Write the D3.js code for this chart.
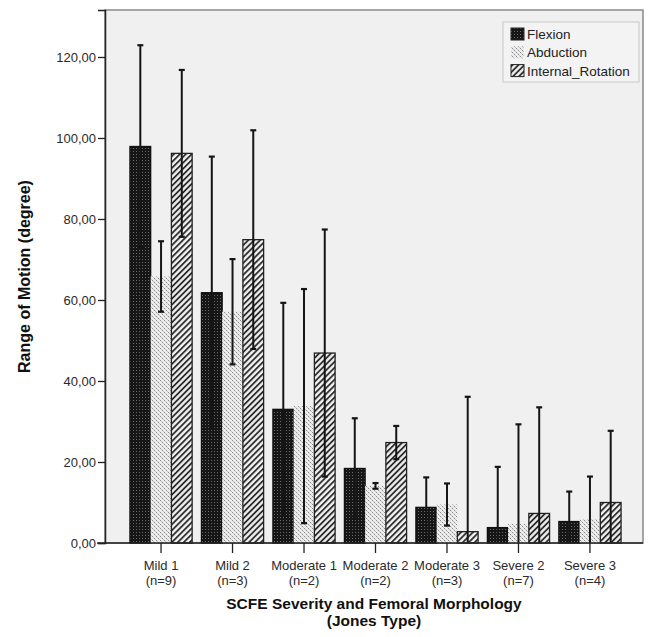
<!DOCTYPE html>
<html>
<head>
<meta charset="utf-8">
<script src="https://cdn.jsdelivr.net/npm/d3@7"></script>
<style>
  html, body { margin: 0; padding: 0; background: #ffffff; }
  svg { display: block; font-family: "Liberation Sans", Arial, sans-serif; }
</style>
</head>
<body>
<svg id="chart" width="648" height="637"></svg>
<script>
// ---- data ----
const categories = ["Mild 1", "Mild 2", "Moderate 1", "Moderate 2", "Moderate 3", "Severe 2", "Severe 3"];
const groupSizes = ["(n=9)", "(n=3)", "(n=2)", "(n=2)", "(n=3)", "(n=7)", "(n=4)"];
const seriesNames = ["Flexion", "Abduction", "Internal_Rotation"];
const flexion = [97.9, 61.8, 33.0, 18.4, 8.8, 3.8, 5.3];
const abduction = [65.8, 57.1, 33.8, 14.1, 9.5, 4.7, 5.9];
const internalRotation = [96.2, 74.9, 46.9, 24.8, 2.8, 7.3, 10.0];
const flexionErr = [25.0, 33.6, 26.3, 12.4, 7.4, 15.0, 7.4];
const abductionErr = [8.7, 13.0, 28.9, 0.7, 5.2, 24.6, 10.5];
const internalRotationErr = [20.6, 27.0, 30.5, 4.1, 33.3, 26.2, 17.7];
const yTicks = [0, 20, 40, 60, 80, 100, 120];
const yMax = 131.6;

const seriesValues = [flexion, abduction, internalRotation];
const seriesErrs = [flexionErr, abductionErr, internalRotationErr];

const svg = d3.select("#chart");
const plot = { left: 105, right: 643, top: 10, bottom: 543 };

// ---- patterns ----
const defs = svg.append("defs");
const pf = defs.append("pattern").attr("id", "patFlex").attr("patternUnits", "userSpaceOnUse")
  .attr("width", 3).attr("height", 3);
pf.append("rect").attr("width", 3).attr("height", 3).attr("fill", "#161616");
pf.append("rect").attr("x", 1).attr("y", 1).attr("width", 1).attr("height", 1).attr("fill", "#6a6a6a");

const pa = defs.append("pattern").attr("id", "patAbd").attr("patternUnits", "userSpaceOnUse")
  .attr("width", 4).attr("height", 4);
pa.append("rect").attr("width", 4).attr("height", 4).attr("fill", "#ececec");
pa.append("rect").attr("x", 0).attr("y", 0).attr("width", 1).attr("height", 1).attr("fill", "#8c8c8c");
pa.append("rect").attr("x", 2).attr("y", 2).attr("width", 1).attr("height", 1).attr("fill", "#8c8c8c");
pa.append("rect").attr("x", 1).attr("y", 1).attr("width", 1).attr("height", 1).attr("fill", "#c4c4c4");
pa.append("rect").attr("x", 3).attr("y", 3).attr("width", 1).attr("height", 1).attr("fill", "#c4c4c4");

const pi = defs.append("pattern").attr("id", "patIR").attr("patternUnits", "userSpaceOnUse")
  .attr("width", 4.2).attr("height", 4.2).attr("patternTransform", "rotate(45)");
pi.append("rect").attr("width", 4.2).attr("height", 4.2).attr("fill", "#f2f2f2");
pi.append("line").attr("x1", 1).attr("y1", 0).attr("x2", 1).attr("y2", 4.2)
  .attr("stroke", "#1e1e1e").attr("stroke-width", 1.7);

const fills = ["url(#patFlex)", "url(#patAbd)", "url(#patIR)"];
const strokes = ["#111", "none", "#222"];

// ---- scales ----
const x0 = d3.scaleBand().domain(categories).range([125.3, 625.7]).paddingInner(0.13).paddingOuter(0.065);
const x1 = d3.scaleBand().domain(seriesNames).range([0, x0.bandwidth()]).padding(0);
const y = d3.scaleLinear().domain([0, yMax]).range([plot.bottom, plot.top]);

// ---- plot background and frame ----
svg.append("rect").attr("x", plot.left).attr("y", plot.top)
  .attr("width", plot.right - plot.left).attr("height", plot.bottom - plot.top)
  .attr("fill", "#f0f0f0").attr("stroke", "#8a8a8a").attr("stroke-width", 1.5);

// ---- bars ----
const rows = [];
categories.forEach((c, i) => {
  seriesNames.forEach((s, k) => {
    rows.push({ cat: c, series: s, k: k, v: seriesValues[k][i], e: seriesErrs[k][i] });
  });
});

svg.append("g").selectAll("rect").data(rows).join("rect")
  .attr("x", d => x0(d.cat) + x1(d.series))
  .attr("y", d => y(d.v))
  .attr("width", x1.bandwidth())
  .attr("height", d => y(0) - y(d.v))
  .attr("fill", d => fills[d.k])
  .attr("stroke", d => strokes[d.k])
  .attr("stroke-width", 1.3);

// ---- error bars ----
const eb = svg.append("g");
const capW = 3;
rows.forEach(d => {
  const cx = x0(d.cat) + x1(d.series) + x1.bandwidth() / 2;
  const lo = Math.max(0, d.v - d.e);
  const hi = d.v + d.e;
  eb.append("line").attr("x1", cx).attr("x2", cx).attr("y1", y(lo)).attr("y2", y(hi))
    .attr("stroke", "#151515").attr("stroke-width", 2);
  eb.append("line").attr("x1", cx - capW).attr("x2", cx + capW).attr("y1", y(hi)).attr("y2", y(hi))
    .attr("stroke", "#151515").attr("stroke-width", 2.2);
  if (d.v - d.e > 0) {
    eb.append("line").attr("x1", cx - capW).attr("x2", cx + capW).attr("y1", y(lo)).attr("y2", y(lo))
      .attr("stroke", "#151515").attr("stroke-width", 2.2);
  }
});

// ---- axes ----
const yAxis = d3.axisLeft(y).tickValues(yTicks).tickSize(7).tickPadding(2)
  .tickFormat(d => d3.format(".2f")(d).replace(".", ","));
const gy = svg.append("g").attr("transform", `translate(${plot.left},0)`).call(yAxis);
gy.select(".domain").attr("stroke", "#222").attr("stroke-width", 1.5);
gy.selectAll(".tick line").attr("stroke", "#222").attr("stroke-width", 1.3);
gy.selectAll(".tick text").attr("font-size", 13).attr("fill", "#2a2a2a")
  .attr("font-family", "'Liberation Sans', Arial, sans-serif");

const xAxis = d3.axisBottom(x0).tickSize(10).tickFormat("");
const gx = svg.append("g").attr("transform", `translate(0,${plot.bottom})`).call(xAxis);
gx.select(".domain").remove();
gx.selectAll(".tick line").attr("stroke", "#222").attr("stroke-width", 1.3);
svg.append("line").attr("x1", 97).attr("x2", plot.right).attr("y1", plot.bottom).attr("y2", plot.bottom)
  .attr("stroke", "#222").attr("stroke-width", 1.5);

const labels = svg.append("g").attr("font-size", 13).attr("fill", "#2a2a2a").attr("text-anchor", "middle");
categories.forEach((c, i) => {
  const cx = x0(c) + x0.bandwidth() / 2;
  labels.append("text").attr("x", cx).attr("y", 570).text(c);
  labels.append("text").attr("x", cx).attr("y", 584.5).text(groupSizes[i]);
});

// ---- titles ----
svg.append("text").attr("x", (plot.left + plot.right) / 2).attr("y", 609)
  .attr("text-anchor", "middle").attr("font-size", 15.5).attr("font-weight", "bold").attr("fill", "#111")
  .text("SCFE Severity and Femoral Morphology");
svg.append("text").attr("x", (plot.left + plot.right) / 2).attr("y", 626)
  .attr("text-anchor", "middle").attr("font-size", 15.5).attr("font-weight", "bold").attr("fill", "#111")
  .text("(Jones Type)");
svg.append("text").attr("transform", `translate(30,${(plot.top + plot.bottom) / 2}) rotate(-90)`)
  .attr("text-anchor", "middle").attr("font-size", 16).attr("font-weight", "bold").attr("fill", "#111")
  .text("Range of Motion (degree)");

// ---- legend ----
const lg = svg.append("g");
lg.append("rect").attr("x", 503).attr("y", 22).attr("width", 136).attr("height", 60)
  .attr("fill", "#f3f3f3").attr("stroke", "#c8c8c8").attr("stroke-width", 1);
seriesNames.forEach((s, k) => {
  const ly = 28 + k * 18.3;
  lg.append("rect").attr("x", 511).attr("y", ly).attr("width", 13).attr("height", 12)
    .attr("fill", fills[k]).attr("stroke", strokes[k] === "none" ? "none" : "#222").attr("stroke-width", 1);
  lg.append("text").attr("x", 527).attr("y", ly + 11).attr("font-size", 13.5).attr("fill", "#222").text(s);
});
</script>
</body>
</html>
